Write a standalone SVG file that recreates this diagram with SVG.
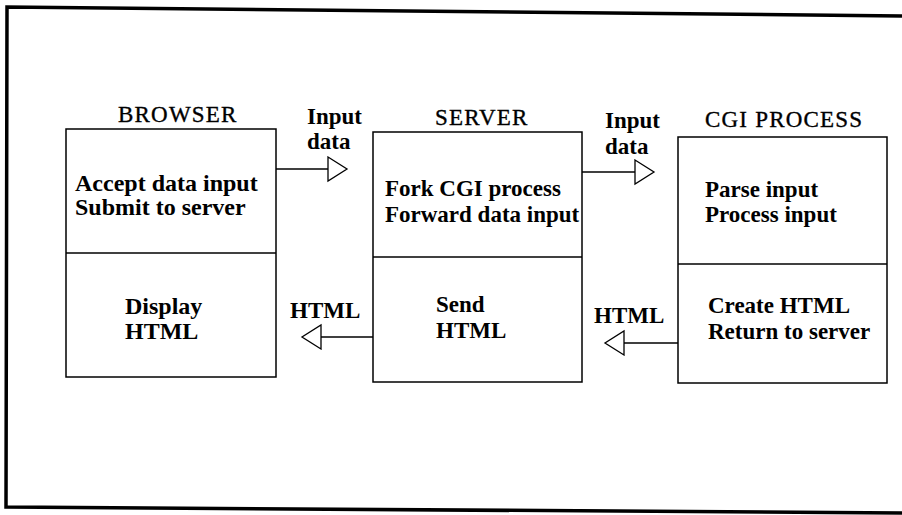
<svg xmlns="http://www.w3.org/2000/svg" width="902" height="515" viewBox="0 0 902 515">
<style>
.frame{fill:none;stroke:#000;stroke-width:3.5}
.box{fill:#fff;stroke:#000;stroke-width:1.5}
.div{stroke:#000;stroke-width:1.5}
.conn{stroke:#000;stroke-width:1.3;fill:none}
text{font-family:"Liberation Serif","Times New Roman",serif;font-size:23px;fill:#000}
.t{font-weight:normal;letter-spacing:1.2px;stroke:#000;stroke-width:0.35}
.b{font-weight:bold}
.l{font-size:24px}
</style>
<defs>
<marker id="tri" markerUnits="userSpaceOnUse" markerWidth="24" markerHeight="28" refX="1" refY="13" orient="auto" viewBox="0 0 24 28">
<path d="M1,1 L20,13 L1,25 Z" fill="#fff" stroke="#000" stroke-width="1.3"/>
</marker>
</defs>
<rect width="902" height="515" fill="#fff"/>
<path class="frame" d="M902,16 L7,7 L6,507 L902,513"/>
<g id="browser">
<text class="t" x="118" y="122">BROWSER</text>
<rect class="box" x="66" y="129" width="210" height="248"/>
<line class="div" x1="66" y1="253" x2="276" y2="253"/>
<text class="b l" x="75" y="191">Accept data input</text>
<text class="b l" x="75" y="215">Submit to server</text>
<text class="b l" x="125" y="314">Display</text>
<text class="b l" x="125" y="339">HTML</text>
</g>
<g id="server">
<text class="t" x="435" y="125">SERVER</text>
<rect class="box" x="373" y="132" width="209" height="250"/>
<line class="div" x1="373" y1="257" x2="582" y2="257"/>
<text class="b" x="385" y="196">Fork CGI process</text>
<text class="b" x="385" y="222">Forward data input</text>
<text class="b" x="436" y="312">Send</text>
<text class="b" x="436" y="338">HTML</text>
</g>
<g id="cgi">
<text class="t" x="705" y="127">CGI PROCESS</text>
<rect class="box" x="678" y="137" width="209" height="246"/>
<line class="div" x1="678" y1="264" x2="887" y2="264"/>
<text class="b" x="705" y="197">Parse input</text>
<text class="b" x="705" y="222">Process input</text>
<text class="b" x="708" y="313">Create HTML</text>
<text class="b" x="708" y="339">Return to server</text>
</g>
<g id="connectors">
<line class="conn" x1="276" y1="169" x2="328" y2="169" marker-end="url(#tri)"/>
<line class="conn" x1="582" y1="172" x2="635" y2="172" marker-end="url(#tri)"/>
<line class="conn" x1="373" y1="337" x2="321" y2="337" marker-end="url(#tri)"/>
<line class="conn" x1="678" y1="343" x2="624" y2="343" marker-end="url(#tri)"/>
<text class="b" x="307" y="124">Input</text>
<text class="b" x="307" y="149">data</text>
<text class="b" x="605" y="128">Input</text>
<text class="b" x="605" y="154">data</text>
<text class="b" x="290" y="318">HTML</text>
<text class="b" x="594" y="323">HTML</text>
</g>
</svg>
